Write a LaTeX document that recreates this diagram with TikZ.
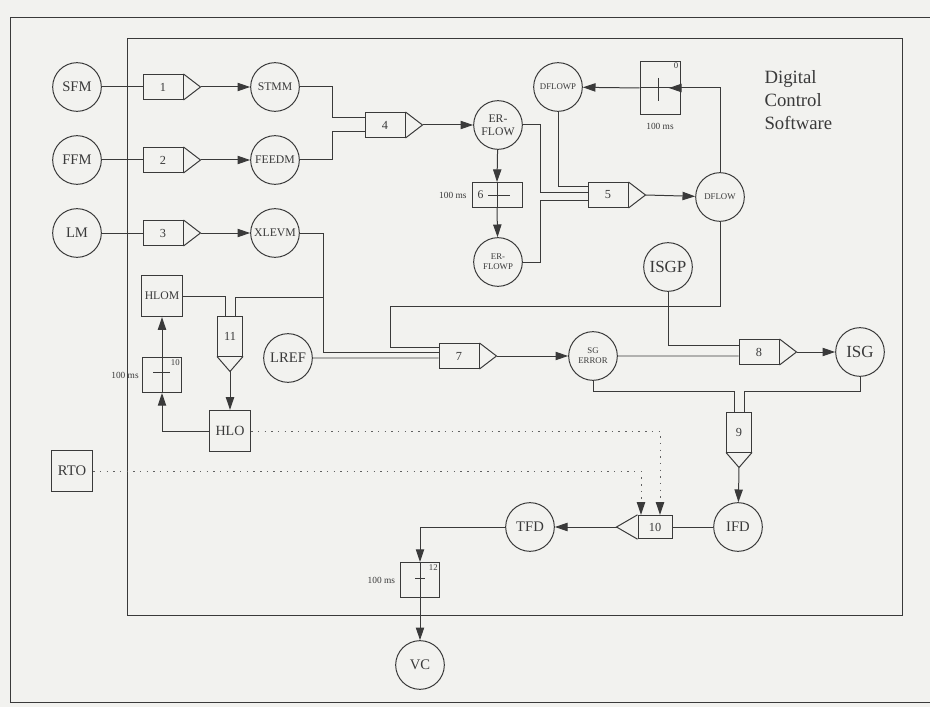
\documentclass[tikz,border=0pt]{standalone}
\usepackage{fontspec}
\setmainfont{Liberation Serif}
\usetikzlibrary{arrows.meta, calc, positioning}
\definecolor{ink}{HTML}{3A3A3A}
\definecolor{paper}{HTML}{F2F2EF}

\begin{document}
\begin{tikzpicture}[x=0.3mm, y=-0.3mm, line width=0.85pt, ink,
    var/.style={circle, draw, minimum size=14.6mm, inner sep=0pt, align=center, font=\fontsize{12.5}{13}\selectfont},
    midvar/.style={var, font=\fontsize{10}{11}\selectfont},
    smallvar/.style={var, font=\fontsize{7.5}{8.5}\selectfont},
    bigvar/.style={var, font=\fontsize{14.5}{15}\selectfont},
    blk/.style={rectangle, draw, minimum width=12mm, minimum height=7.5mm, inner sep=0pt, font=\fontsize{10.5}{11}\selectfont},
    vblk/.style={blk, minimum width=7.5mm, minimum height=12mm},
    dly/.style={rectangle, draw, minimum width=11.7mm, minimum height=10.5mm, inner sep=0pt},
    sq/.style={rectangle, draw, minimum size=12.4mm, inner sep=0pt, font=\fontsize{10}{11}\selectfont},
    note/.style={font=\fontsize{8}{9}\selectfont, inner sep=1pt},
    tag/.style={font=\fontsize{7.5}{8}\selectfont, inner sep=1.5pt},
    arr/.style={-{Triangle[length=3.8mm,width=2.5mm,color=ink]}},
    sig/.style={dash pattern=on 1.2pt off 4.5pt, draw=ink!80},
]
\useasboundingbox (0,0) rectangle (930,707);
\fill[paper] (0,0) rectangle (930,707);

% frames
\draw (930,18) -- (10,18) -- (10,702) -- (930,702);
\draw (127,39) rectangle (902,615);
\node[anchor=north west, align=left, inner sep=0pt, font=\fontsize{16}{19.5}\selectfont] (title) at (764,70) {Digital\\Control\\Software};

% sensors and variables
\node[var] (sfm) at (77,87) {SFM};
\node[var] (ffm) at (77,160) {FFM};
\node[var] (lm) at (77,233) {LM};
\node[midvar] (stmm) at (275,87) {STMM};
\node[midvar] (feedm) at (275,160) {FEEDM};
\node[midvar] (xlevm) at (275,233) {XLEVM};
\node[midvar] (erflow) at (498,125) {ER-\\FLOW};
\node[smallvar] (erflowp) at (498,262) {ER-\\FLOWP};
\node[smallvar] (dflowp) at (558,87) {DFLOWP};
\node[smallvar] (dflow) at (720,197) {DFLOW};
\node[bigvar] (isgp) at (668,267) {ISGP};
\node[var] (lref) at (288,358) {LREF};
\node[smallvar] (sgerr) at (593,356) {SG\\ERROR};
\node[bigvar] (isg) at (860,352) {ISG};
\node[var] (ifd) at (738,527) {IFD};
\node[var] (tfd) at (530,527) {TFD};
\node[var] (vc) at (420,665) {VC};
\node[sq] (hlom) at (162,296) {HLOM};
\node[sq, font=\fontsize{12}{13}\selectfont] (hlo) at (230,431) {HLO};
\node[sq, font=\fontsize{12.5}{13}\selectfont] (rto) at (72,471) {RTO};

% blocks
\node[blk] (b1) at (163,87) {1};
\node[blk] (b2) at (163,160) {2};
\node[blk] (b3) at (163,233) {3};
\node[blk] (b4) at (385,125) {4};
\node[blk] (b5) at (608,195) {5};
\node[blk] (b7) at (459,356) {7};
\node[blk] (b8) at (759,352) {8};
\node[vblk] (b9) at (739,432) {9};
\node[vblk] (b11) at (230,336) {11};
\node[blk, minimum width=10.2mm, minimum height=7mm] (b10) at (655,527) {10};
\foreach \nm in {b1,b2,b3,b4,b5,b7,b8}
  \draw (\nm.north east) -- ($(\nm.east)+(17,0)$) coordinate (\nm o) -- (\nm.south east);
\foreach \nm in {b9,b11}
  \draw (\nm.south west) -- ($(\nm.south)+(0,15)$) coordinate (\nm o) -- (\nm.south east);
\draw (b10.north west) -- ($(b10.west)+(-21,0)$) coordinate (b10o) -- (b10.south west);

% delays
\node[dly, minimum width=12mm, minimum height=16mm] (d0) at (660,88) {};
\node[dly, minimum width=15mm, minimum height=7.5mm] (d6) at (497,195) {};
\node[dly] (d10) at (162,375) {};
\node[dly] (d12) at (420,580) {};
\node[tag, anchor=north east] at (d0.north east) {0};
\node[font=\fontsize{10}{11}\selectfont] at ($(d6.west)+(9,0)$) {6};
\node[tag, anchor=north east] at (d10.north east) {10};
\node[tag, anchor=north east] at (d12.north east) {12};
\node[note, below=2mm of d0] {100 ms};
\node[note, left=1mm of d6] {100 ms};
\node[note, left=0.5mm of d10] {100 ms};
\node[note, left=1mm of d12] {100 ms};
\draw ($(d0.center)+(-2,-10)$) -- ($(d0.center)+(-2,13)$);
\draw ($(d6.center)+(-9,0)$) -- ($(d6.center)+(13,0)$);
\draw ($(d10.center)+(-9,-3)$) -- ($(d10.center)+(8,-3)$);
\draw ($(d12.center)+(-5,-2)$) -- ($(d12.center)+(5,-2)$);

% measurements
\draw (sfm) -- (b1);
\draw[arr] (b1o) -- (stmm);
\draw (ffm) -- (b2);
\draw[arr] (b2o) -- (feedm);
\draw (lm) -- (b3);
\draw[arr] (b3o) -- (xlevm);

% flow error
\draw (stmm.east) -- ++(33,0) |- ([yshift=2.1mm]b4.west);
\draw (feedm.east) -- ++(33,0) |- ([yshift=-2.1mm]b4.west);
\draw[arr] (b4o) -- (erflow);
\draw[arr] (erflow) -- (d6.north);
\draw (d6.north) -- (d6.south);
\draw[arr] (d6.south) -- (erflowp);
\draw (dflowp.south) |- ([yshift=2.4mm]b5.west);
\draw (erflow.east) -- ++(18,0) |- ([yshift=0.6mm]b5.west);
\draw (erflowp.east) -- ++(18,0) |- ([yshift=-1.6mm]b5.west);
\draw[arr] (b5o) -- (dflow);
\draw[arr] (dflow.north) |- ([xshift=-3.5mm]d0.east);
\draw (d0.west) -- (d0.east);
\draw[arr] (d0.west) -- (dflowp);

% level error
\coordinate (xj) at (323,297);
\draw (dflow.south) -- ++(0,85) -- ++(-330,0) |- ([yshift=2.7mm]b7.west);
\draw (xlevm.east) -- ++(24,0) |- ([yshift=1.2mm]b7.west);
\draw (lref.east) -- ([yshift=-0.6mm]b7.west);
\draw[arr] (b7o) -- (sgerr);
\draw (isgp.south) |- ([yshift=2.1mm]b8.west);
\draw (sgerr.east) -- ([yshift=-1.2mm]b8.west);
\draw[arr] (b8o) -- (isg);
\draw (sgerr.south) -- ++(0,10.7) -| ([xshift=-1.5mm]b9.north);
\draw (isg.south) -- ++(0,14.7) -| ([xshift=1.5mm]b9.north);
\draw[arr] (b9o) -- (ifd);

% high level override
\draw (hlom.east) -| ([xshift=-1.5mm]b11.north);
\draw (xj) -| ([xshift=1.5mm]b11.north);
\draw[arr] (b11o) -- (hlo);
\draw[arr] (hlo.west) -| (d10.south);
\draw (d10.south) -- (d10.north);
\draw[arr] (d10.north) -- (hlom.south);

% demand and valve
\draw (ifd) -- (b10);
\draw[arr] (b10o) -- (tfd);
\draw[arr] (tfd.west) -| (d12.north);
\draw (d12.north) -- (d12.south);
\draw[arr] (d12.south) -- (vc);
\draw[sig, arr] (hlo.east) -| ([xshift=1.5mm]b10.north);
\draw[sig, arr] (rto.east) -| ([xshift=-4.2mm]b10.north);

\end{tikzpicture}
\end{document}
